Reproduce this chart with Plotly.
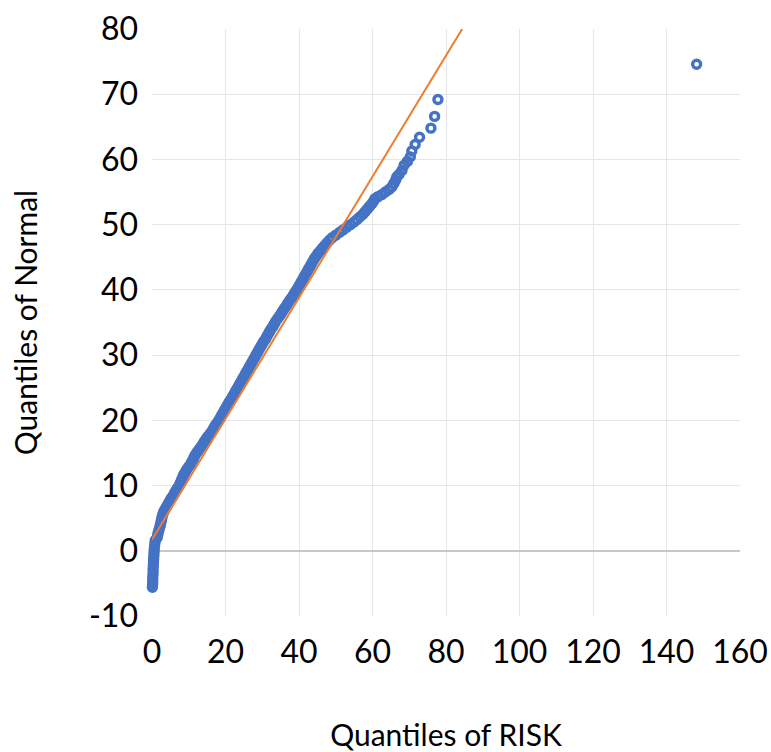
import plotly.graph_objects as go

# Quantiles of RISK (x) vs Quantiles of Normal (y)
risk_q = [0.1, 0.15, 0.2, 0.2, 0.25, 0.3, 0.3, 0.35, 0.4, 0.45, 0.5, 0.55, 0.6, 0.7, 0.8, 0.9,
          1.4, 1.55, 1.7, 1.9, 2.1, 2.3, 2.45, 2.6, 2.75, 2.95, 3.2, 3.6, 4.0, 4.4, 4.8, 5.2,
          5.7, 6.1, 6.5, 6.9, 7.4, 7.7, 8.0, 8.3, 8.6, 9.0, 9.4, 9.9, 10.4, 10.8, 11.2, 11.5,
          11.9, 12.4, 12.9, 13.4, 13.9, 14.3, 14.8, 15.3, 15.9, 16.4, 16.8, 17.2, 17.7, 18.2,
          18.6, 19.0, 19.4, 19.8, 20.2, 20.6, 21.0, 21.5, 21.9, 22.3, 22.7, 23.1, 23.5, 23.9,
          24.3, 24.7, 25.1, 25.5, 25.9, 26.3, 26.7, 27.1, 27.5, 27.9, 28.3, 28.7, 29.1, 29.5,
          29.9, 30.3, 30.8, 31.2, 31.6, 32.0, 32.4, 32.9, 33.3, 33.7, 34.2, 34.7, 35.2, 35.6,
          36.1, 36.6, 37.0, 37.5, 38.0, 38.5, 38.9, 39.4, 39.8, 40.2, 40.6, 41.0, 41.4, 41.8,
          42.2, 42.6, 43.0, 43.4, 43.8, 44.2, 44.7, 45.2, 45.8, 46.4, 47.0, 47.6, 48.3, 49.0,
          50.0, 51.0, 52.0, 53.0, 54.0, 55.0, 55.8, 56.6, 57.4, 58.0, 58.6, 59.2, 59.8, 60.3,
          60.7, 61.5, 62.5, 63.5, 64.5, 65.3, 65.8, 66.3, 66.6, 67.2, 68.0, 68.6, 69.5, 70.3,
          70.7, 71.6, 72.8, 75.9, 76.9, 77.8, 148.2]
normal_q = [-5.6, -5.2, -4.8, -4.3, -3.8, -3.3, -2.8, -2.3, -1.8, -1.3, -0.8, -0.3, 0.2, 0.7, 1.2, 1.6,
            2.0, 2.4, 2.8, 3.2, 3.6, 4.0, 4.4, 4.8, 5.2, 5.6, 6.0, 6.4, 6.8, 7.2, 7.6, 8.0,
            8.4, 8.8, 9.2, 9.6, 10.0, 10.4, 10.8, 11.2, 11.6, 12.0, 12.4, 12.8, 13.2, 13.6, 14.0, 14.4,
            14.8, 15.2, 15.6, 16.0, 16.4, 16.8, 17.2, 17.6, 18.0, 18.4, 18.8, 19.2, 19.6, 20.0,
            20.4, 20.8, 21.2, 21.6, 22.0, 22.4, 22.8, 23.2, 23.6, 24.0, 24.4, 24.8, 25.2, 25.6,
            26.0, 26.4, 26.8, 27.2, 27.6, 28.0, 28.4, 28.8, 29.2, 29.6, 30.0, 30.4, 30.8, 31.2,
            31.6, 32.0, 32.4, 32.8, 33.2, 33.6, 34.0, 34.4, 34.8, 35.2, 35.6, 36.0, 36.4, 36.8,
            37.2, 37.6, 38.0, 38.4, 38.8, 39.2, 39.6, 40.0, 40.4, 40.8, 41.2, 41.6, 42.0, 42.4,
            42.8, 43.2, 43.6, 44.0, 44.4, 44.8, 45.2, 45.6, 46.0, 46.4, 46.8, 47.2, 47.6, 48.0,
            48.4, 48.8, 49.2, 49.6, 50.0, 50.4, 50.8, 51.2, 51.6, 52.0, 52.4, 52.8, 53.2, 53.6,
            54.0, 54.3, 54.6, 55.0, 55.4, 55.8, 56.3, 56.8, 57.3, 57.7, 58.3, 59.1, 59.7, 60.4,
            61.3, 62.3, 63.4, 64.8, 66.6, 69.2, 74.6]

# Reference line endpoints
line_x = [0, 84.4]
line_y = [1.7, 80]

x_ticks = [0, 20, 40, 60, 80, 100, 120, 140, 160]
y_ticks = [-10, 0, 10, 20, 30, 40, 50, 60, 70, 80]

FONT = "Lato, 'Open Sans', sans-serif"

fig = go.Figure()
fig.add_trace(go.Scatter(
    x=risk_q, y=normal_q, mode="markers",
    marker=dict(symbol="circle-open", size=8, color="#4472C4", line=dict(width=3.4, color="#4472C4")),
    showlegend=False, cliponaxis=False,
))
fig.add_trace(go.Scatter(
    x=line_x, y=line_y, mode="lines",
    line=dict(color="#ED7D31", width=2), showlegend=False,
))

fig.update_layout(
    width=771, height=752,
    margin=dict(l=152, r=31, t=29, b=136, autoexpand=False),
    paper_bgcolor="white", plot_bgcolor="white",
    font=dict(family=FONT, color="#000000"),
)
fig.update_xaxes(
    range=[0, 160], tickvals=x_ticks, ticktext=[str(v) for v in x_ticks],
    showgrid=True, gridcolor="#E6E6E6", gridwidth=1, zeroline=False, showline=False,
    tickfont=dict(size=32), ticklabelstandoff=14, automargin=False,
    title=dict(text="Quantiles of RISK", font=dict(size=30), standoff=56),
)
fig.update_yaxes(
    range=[-10, 80], tickvals=y_ticks, ticktext=[str(v) for v in y_ticks],
    showgrid=True, gridcolor="#E6E6E6", gridwidth=1,
    zeroline=True, zerolinecolor="#C8C8C8", zerolinewidth=1.5, showline=False,
    tickfont=dict(size=32), ticklabelstandoff=13, automargin=False,
    title=dict(text="Quantiles of Normal", font=dict(size=30), standoff=42),
)

fig.write_html("out.html")
